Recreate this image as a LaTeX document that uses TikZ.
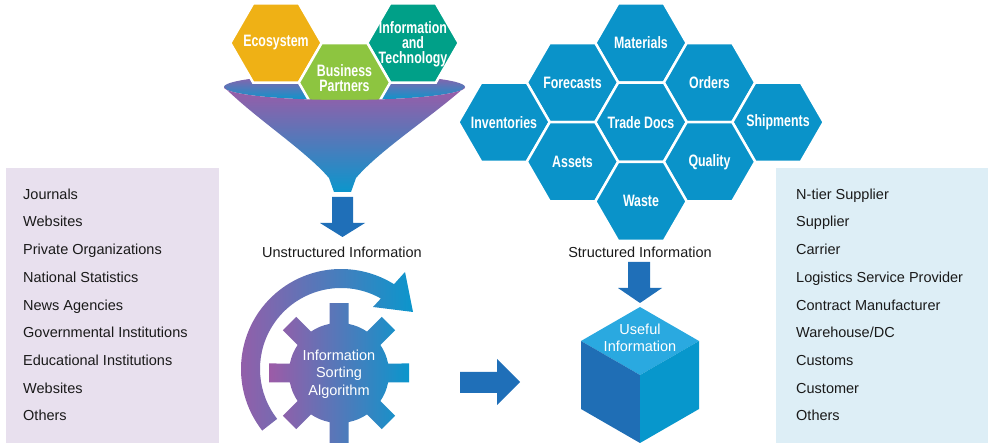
\documentclass[tikz,border=0pt]{standalone}
\usepackage{fontspec}
\setmainfont{Liberation Sans}
\newfontfamily\condfont{Liberation Sans}[FakeStretch=0.75]
\usetikzlibrary{shapes.geometric}

\definecolor{srcbg}{HTML}{E8E0EE}
\definecolor{partbg}{HTML}{DDEEF6}
\definecolor{hexblue}{HTML}{0A93C9}
\definecolor{ecoorange}{HTML}{EFB115}
\definecolor{bizgreen}{HTML}{8DC540}
\definecolor{techteal}{HTML}{00A088}
\definecolor{fpurple}{HTML}{9C5BA7}
\definecolor{fblue}{HTML}{0B96CC}
\definecolor{arrowblue}{HTML}{1F6FB8}
\definecolor{cubeleft}{HTML}{1F6EB5}
\definecolor{cuberight}{HTML}{0797CC}
\definecolor{cubetop}{HTML}{2AA9E0}
\definecolor{inktext}{HTML}{1A1A1A}

\tikzset{
  hexcell/.style={regular polygon, regular polygon sides=6, minimum size=91.4pt,
    inner sep=0pt, draw=white, line width=2.5pt, fill=#1},
  hexlabel/.style={text=white, align=center, inner sep=0pt,
    font={\condfont\bfseries\fontsize{16.5pt}{15pt}\selectfont}},
  listitem/.style={anchor=base west, inner sep=0pt, text=inktext,
    font={\fontsize{14.5pt}{17pt}\selectfont}},
  caption/.style={inner sep=0pt, text=inktext, font={\fontsize{14.5pt}{17pt}\selectfont}},
  whitetext/.style={inner sep=0pt, text=white, align=center,
    font={\fontsize{14.5pt}{17.5pt}\selectfont}},
  blockarrow/.style={fill=arrowblue}
}

\begin{document}
\begin{tikzpicture}[x=1pt,y=-1pt]
\useasboundingbox (0,0) rectangle (988,443);
\clip (0,0) rectangle (988,443);

% side panels
\fill[srcbg] (6,168) rectangle (219,450);
\fill[partbg] (776,168) rectangle (990,450);

\foreach \t [count=\i from 0] in {Journals, Websites, Private Organizations,
    National Statistics, News Agencies, Governmental Institutions,
    Educational Institutions, Websites, Others}
  \node[listitem] (src\i) at (23,{199.3+27.7*\i}) {\t};

\foreach \t [count=\i from 0] in {N-tier Supplier, Supplier, Carrier,
    Logistics Service Provider, Contract Manufacturer, Warehouse/DC,
    Customs, Customer, Others}
  \node[listitem] (part\i) at (796,{199.3+27.7*\i}) {\t};

% structured data honeycomb
\foreach \n/\x/\y/\t in {mat/641/43/Materials, fore/572.5/82.6/Forecasts,
    ord/709.5/82.6/Orders, inv/504/122.2/Inventories, trade/641/122.2/Trade Docs,
    ship/778/122.2/Shipments, ass/572.5/161.8/Assets, qual/709.5/161.8/Quality,
    waste/641/201.4/Waste}
{
  \node[hexcell=hexblue] (\n) at (\x,\y) {};
  \node[hexlabel] at (\n) {\t};
}

% funnel mouth
\shade[top color=fpurple, bottom color=fblue] (344.5,87) ellipse [x radius=120.5, y radius=13];

% inputs entering the funnel
\node[hexcell=ecoorange] (eco) at (276,43) {};
\node[hexcell=techteal] (tech) at (413,43) {};
\node[hexcell=bizgreen] (biz) at (344.5,82.6) {};
\node[hexlabel] at (eco) {Ecosystem};
\node[hexlabel] at (413,44.5) {Information\\and\\Technology};
\node[hexlabel] at (344.5,78.5) {Business\\Partners};

% funnel body
\shade[top color=fpurple, bottom color=fblue]
  (224,87) arc[start angle=180, end angle=0, x radius=120.5, y radius=13]
  .. controls (430,118) and (380,150) .. (356,178)
  -- (351,192) -- (334,192) -- (329,178)
  .. controls (305,150) and (255,118) .. (224,87) -- cycle;

% block arrows
\fill[blockarrow] (332,197) -- (353,197) -- (353,223) -- (365,223) -- (342.5,237)
  -- (320,223) -- (332,223) -- cycle;
\fill[blockarrow] (628,262) -- (650,262) -- (650,288) -- (662,288) -- (640,303)
  -- (618,288) -- (628,288) -- cycle;
\fill[blockarrow] (460,372) -- (497,372) -- (497,359) -- (520,382) -- (497,405)
  -- (497,393) -- (460,393) -- cycle;

\node[caption] (unstr) at (342,252) {Unstructured Information};
\node[caption] (struct) at (640,252) {Structured Information};

% sorting gear
\shade[left color=fpurple, right color=fblue, shift={(339,373)}] (-10.95:50)
  \foreach \a in {0,45,...,315} {
    -- ({\a-10.95}:50) -- ({\a-7.73}:70.64) -- ({\a+7.73}:70.64) -- ({\a+10.95}:50)
    arc[start angle={\a+10.95}, end angle={\a+34.05}, radius=50]
  } -- cycle;
\node[whitetext] (algo) at (339,374) {Information\\Sorting\\Algorithm};

% circular arrow around the gear
\shade[left color=fpurple, right color=fblue, shift={(341,369)}]
  (142:100) arc[start angle=142, end angle=302, radius=100]
  -- (64,-97) -- (72,-57) -- (32,-62)
  -- (299.5:81) arc[start angle=299.5, end angle=142, radius=81] -- cycle;

% useful information cube
\fill[cubetop] (640,307) -- (699,341) -- (640,375) -- (581,341) -- cycle;
\fill[cubeleft] (581,341) -- (640,375) -- (640,443) -- (581,409) -- cycle;
\fill[cuberight] (699,341) -- (640,375) -- (640,443) -- (699,409) -- cycle;
\node[whitetext] (useful) at (640,338) {Useful\\Information};

\end{tikzpicture}
\end{document}
